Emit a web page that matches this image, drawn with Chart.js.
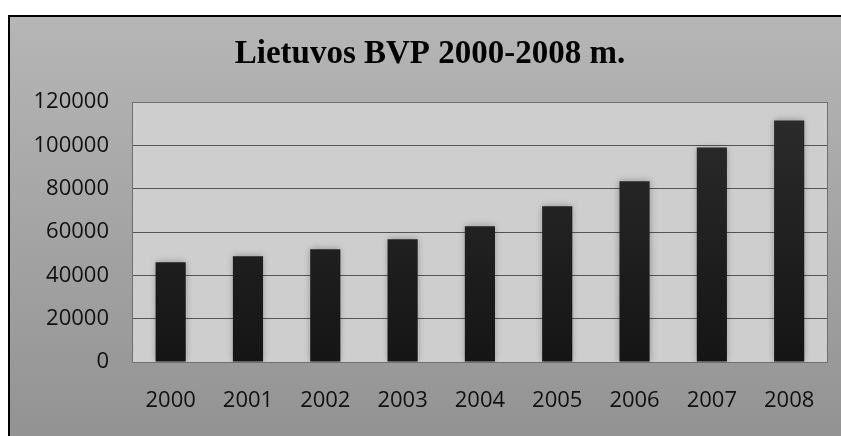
<!DOCTYPE html>
<html>
<head>
<meta charset="utf-8">
<script src="https://cdn.jsdelivr.net/npm/chart.js@4.4.1/dist/chart.umd.min.js"></script>
<style>
html,body{margin:0;padding:0;background:#fff;}
canvas{display:block;}
</style>
</head>
<body>
<canvas id="c" width="841" height="436"></canvas>
<script>
const titleText = 'Lietuvos BVP 2000-2008 m.';
const years = ['2000','2001','2002','2003','2004','2005','2006','2007','2008'];
const bvp = [46000, 48800, 52000, 56700, 62700, 71900, 83400, 99000, 111500];
const yMin = 0, yMax = 120000, yStep = 20000;

const framePlugin = {
  id: 'frame',
  beforeDraw(chart) {
    const ctx = chart.ctx, W = chart.width, H = chart.height;
    ctx.save();
    ctx.fillStyle = '#ffffff';
    ctx.fillRect(0, 0, W, H);
    const g = ctx.createLinearGradient(0, 15, 0, H);
    g.addColorStop(0, '#b6b6b6');
    g.addColorStop(1, '#939393');
    ctx.fillStyle = g;
    ctx.fillRect(8, 15, W - 8, H - 15);
    ctx.strokeStyle = '#000';
    ctx.lineWidth = 2;
    ctx.beginPath();
    ctx.moveTo(9, H);
    ctx.lineTo(9, 16);
    ctx.lineTo(W, 16);
    ctx.stroke();
    const a = chart.chartArea;
    ctx.fillStyle = '#cecece';
    ctx.fillRect(a.left, a.top, a.right - a.left, a.bottom - a.top);
    // title
    ctx.fillStyle = '#000';
    ctx.font = 'bold 33px "Liberation Serif", "Times New Roman", serif';
    ctx.textAlign = 'center';
    ctx.textBaseline = 'alphabetic';
    ctx.fillText(titleText, 430, 63);
    ctx.restore();
  },
  beforeDatasetsDraw(chart) {
    const ctx = chart.ctx, a = chart.chartArea;
    ctx.save();
    ctx.strokeStyle = '#707070';
    ctx.lineWidth = 1;
    ctx.strokeRect(Math.round(a.left) + 0.5, Math.round(a.top) + 0.5, Math.round(a.right - a.left) - 1, Math.round(a.bottom - a.top));
    ctx.restore();
    ctx.save();
    ctx.shadowColor = 'rgba(0,0,0,0.3)';
    ctx.shadowBlur = 7;
    ctx.shadowOffsetX = 0;
    ctx.shadowOffsetY = 0;
  },
  afterDatasetsDraw(chart) {
    chart.ctx.restore();
  }
};

function barGradient(context) {
  const chart = context.chart;
  const a = chart.chartArea;
  if (!a) return '#222';
  const g = chart.ctx.createLinearGradient(0, a.top, 0, a.bottom);
  g.addColorStop(0, '#2c2c2c');
  g.addColorStop(1, '#151515');
  return g;
}

const tickFont = { family: '"Open Sans", sans-serif', size: 22 };

new Chart(document.getElementById('c'), {
  type: 'bar',
  data: {
    labels: years,
    datasets: [{
      data: bvp,
      backgroundColor: barGradient,
      borderWidth: 0,
      categoryPercentage: 1,
      barPercentage: 0.39
    }]
  },
  options: {
    responsive: false,
    animation: false,
    devicePixelRatio: 1,
    layout: { padding: { top: 102, right: 12, left: 0, bottom: 0 } },
    plugins: { legend: { display: false }, title: { display: false }, tooltip: { enabled: false } },
    scales: {
      x: {
        grid: { display: false, drawTicks: false },
        border: { display: false },
        ticks: { color: '#111', font: tickFont, padding: 26, maxRotation: 0 },
        afterFit(scale) { scale.height = 74; }
      },
      y: {
        min: yMin, max: yMax,
        grid: { color: '#555555', lineWidth: 1, drawTicks: false },
        border: { display: false },
        ticks: { stepSize: yStep, color: '#111', font: tickFont, padding: 23, callback: (v) => String(v) },
        afterFit(scale) { scale.width = 132; }
      }
    }
  },
  plugins: [framePlugin]
});
</script>
</body>
</html>
